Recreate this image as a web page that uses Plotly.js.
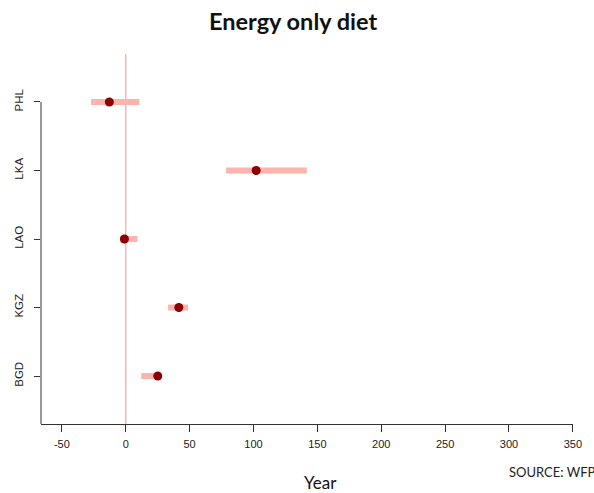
<!DOCTYPE html>
<html>
<head>
<meta charset="utf-8">
<script src="https://cdn.plot.ly/plotly-3.0.1.min.js"></script>
<style>html,body{margin:0;padding:0;background:#fff;}#chart{width:594px;height:493px;}</style>
</head>
<body>
<div id="chart"></div>
<script>
// Data
var countries = ["BGD", "KGZ", "LAO", "LKA", "PHL"];
var positions = [1, 2, 3, 4, 5];
var estimate  = [25.1, 41.6, -1.0, 102.1, -12.8];
var lower     = [12.1, 33.2, -4.4, 78.6, -27.1];
var upper     = [25.1, 48.8, 9.2, 141.8, 10.7];
var xTicks    = [-50, 0, 50, 100, 150, 200, 250, 300, 350];

var errPlus = estimate.map(function (v, i) { return upper[i] - v; });
var errMinus = estimate.map(function (v, i) { return v - lower[i]; });

var trace = {
  type: "scatter",
  mode: "markers",
  x: estimate,
  y: positions,
  marker: { color: "#8B0000", size: 9 },
  error_x: {
    type: "data",
    symmetric: false,
    array: errPlus,
    arrayminus: errMinus,
    color: "#FCB4AE",
    thickness: 6,
    width: 0
  },
  hoverinfo: "x+y"
};

var layout = {
  width: 594,
  height: 493,
  paper_bgcolor: "#ffffff",
  plot_bgcolor: "#ffffff",
  showlegend: false,
  margin: { l: 41, r: 21, t: 54, b: 69 },
  font: { family: "Liberation Sans, Arial, sans-serif", size: 11, color: "#222" },
  xaxis: {
    range: [-66.3, 350.1],
    tickvals: xTicks,
    ticktext: xTicks.map(String),
    showgrid: false,
    zeroline: false,
    showline: true,
    linecolor: "#333",
    linewidth: 1,
    ticks: "outside",
    ticklen: 7,
    tickcolor: "#333",
    tickfont: { family: "Liberation Sans, Arial, sans-serif", size: 11, color: "#222" },
    ticklabelstandoff: 3
  },
  yaxis: {
    range: [0.3, 5.7],
    tickvals: positions,
    ticktext: countries,
    tickangle: -90,
    showgrid: false,
    zeroline: false,
    showline: false,
    ticks: "outside",
    ticklen: 6,
    tickcolor: "#333",
    tickfont: { family: "Liberation Sans, Arial, sans-serif", size: 11.5, color: "#222" },
    ticklabelstandoff: 6
  },
  shapes: [
    { type: "line", xref: "x", yref: "paper", x0: 0, x1: 0, y0: 0, y1: 1,
      line: { color: "#F9B5B0", width: 1.5 }, layer: "below" },
    { type: "line", xref: "paper", yref: "y", x0: 0, x1: 0, y0: 0.3, y1: 5,
      line: { color: "#333", width: 1 } }
  ],
  annotations: [
    { text: "<b>Energy only diet</b>", xref: "paper", yref: "paper",
      x: (292.5 - 41) / 532, y: 1, yshift: 33, xanchor: "center", yanchor: "middle",
      showarrow: false, font: { family: "Lato, sans-serif", size: 23.5, color: "#111" } },
    { text: "Year", xref: "paper", yref: "paper",
      x: (320 - 41) / 532, y: 0, yshift: -58, xanchor: "center", yanchor: "middle",
      showarrow: false, font: { family: "Lato, sans-serif", size: 17, color: "#111" } },
    { text: "SOURCE: WFP", xref: "paper", yref: "paper",
      x: (507 - 41) / 532, y: 0, yshift: -48, xanchor: "left", yanchor: "middle",
      showarrow: false, font: { family: "Lato, sans-serif", size: 13, color: "#222" } }
  ]
};

Plotly.newPlot("chart", [trace], layout, { displayModeBar: false, staticPlot: true });
</script>
</body>
</html>
